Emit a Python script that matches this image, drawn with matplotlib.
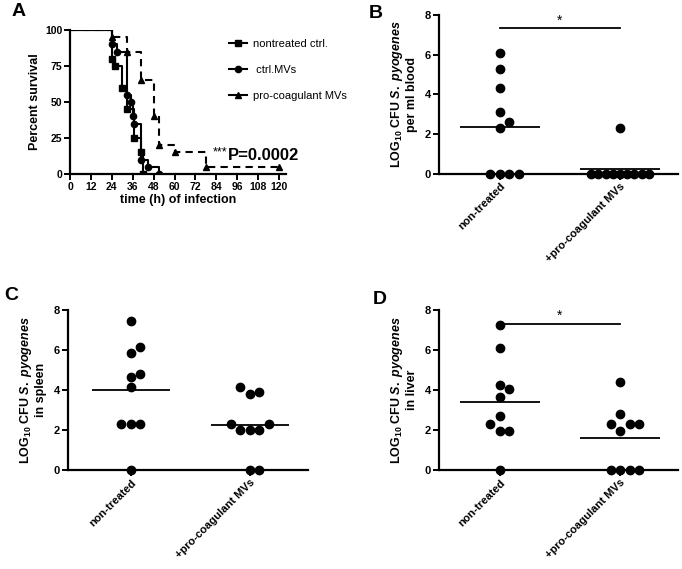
import numpy as np
import matplotlib
matplotlib.use('Agg')
import matplotlib.pyplot as plt
from matplotlib.lines import Line2D

plt.rcParams['font.family'] = 'Liberation Sans'
plt.rcParams['font.weight'] = 'bold'
plt.rcParams['axes.labelweight'] = 'bold'
plt.rcParams['mathtext.fontset'] = 'custom'
plt.rcParams['mathtext.rm'] = 'Liberation Sans:bold'
plt.rcParams['mathtext.it'] = 'Liberation Sans:italic:bold'
plt.rcParams['mathtext.bf'] = 'Liberation Sans:bold'

# --- survival data (panel A) ---
t_ctrl = [0, 24, 26, 30, 33, 37, 41, 42]
s_ctrl = [100, 80, 75, 60, 45, 25, 15, 0]
t_mv = [0, 24, 27, 33, 35, 36, 37, 41, 45, 51]
s_mv = [100, 90, 85, 55, 50, 40, 35, 10, 5, 0]
t_pro = [0, 24, 33, 41, 48, 51, 60, 78, 120]
s_pro = [100, 95, 85, 65, 40, 20, 15, 5, 5]
surv_labels = ['nontreated ctrl.', ' ctrl.MVs', 'pro-coagulant MVs']
x_ticks_a = list(range(0, 121, 12))
p_text = 'P=0.0002'

# --- CFU data (panels B-D) ---
groups = ['non-treated', '+pro-coagulant MVs']
blood_nt = [6.07, 5.28, 4.3, 3.1, 2.29, 2.59, 0, 0, 0, 0]
blood_pro = [2.29, 0, 0, 0, 0, 0, 0, 0, 0, 0]
spleen_nt = [7.47, 5.86, 6.17, 4.15, 4.68, 4.8, 2.3, 2.3, 2.3, 0]
spleen_pro = [3.79, 3.89, 4.17, 2.0, 2.0, 2.0, 2.3, 2.3, 0, 0]
liver_nt = [7.25, 6.11, 4.24, 4.07, 3.67, 2.72, 1.97, 1.97, 2.29, 0]
liver_pro = [4.41, 2.82, 1.97, 2.29, 2.29, 2.29, 0, 0, 0, 0]


fig = plt.figure(figsize=(6.82, 5.69), dpi=100)
W, H = 682., 569.


def axes_px(l, t, r, b):
    return fig.add_axes([l / W, 1 - b / H, (r - l) / W, (b - t) / H])


def style(ax):
    for s in ['top', 'right']:
        ax.spines[s].set_visible(False)
    for s in ['left', 'bottom']:
        ax.spines[s].set_linewidth(1.6)
    ax.tick_params(direction='out', width=1.4, length=4, labelsize=8, pad=1.5)


def swarm(ax, xc, vals):
    # side-by-side placement of overlapping dots, tighter when many ties
    ties = max(vals.count(v) for v in vals)
    d = 9.5 if ties <= 5 else 7.2
    T = ax.transData
    pts, xs = [], []
    for v in vals:
        x0, y0 = T.transform((xc, v))
        for k in [0, 1, -1, 2, -2, 3, -3, 4, -4, 5, -5]:
            xp = x0 + k * d
            if all((xp - a) ** 2 + (y0 - b) ** 2 >= (0.97 * d) ** 2 for a, b in pts):
                break
        pts.append((xp, y0))
        xs.append(T.inverted().transform((xp, y0))[0])
    return xs


# panel A
ax = axes_px(70, 30, 286, 174)
style(ax)
ax.step(t_ctrl, s_ctrl, where='post', color='k', lw=1.5)
ax.plot(t_ctrl[1:], s_ctrl[1:], 's', color='k', ms=4.5)
ax.step(t_mv, s_mv, where='post', color='k', lw=1.5)
ax.plot(t_mv[1:], s_mv[1:], 'o', color='k', ms=4.5)
ax.step(t_pro, s_pro, where='post', color='k', lw=1.5, linestyle=(0, (3.5, 2.5)))
ax.plot(t_pro[1:], s_pro[1:], '^', color='k', ms=5)
ax.set_xlim(0, 124)
ax.set_ylim(0, 100)
ax.set_xticks(x_ticks_a)
ax.set_yticks([0, 25, 50, 75, 100])
ax.tick_params(labelsize=7.5)
ax.set_xlabel('time (h) of infection', fontsize=9, labelpad=2)
ax.set_ylabel('Percent survival', fontsize=9, labelpad=3)
ax.text(82, 15, '***', fontsize=9, fontweight='normal', ha='left', va='center')
ax.text(90.5, 12.5, p_text, fontsize=12, fontweight='bold', ha='left', va='center')
handles = [Line2D([], [], color='k', lw=1.5, marker=m, ms=ms)
           for m, ms in zip(['s', 'o', '^'], [4.5, 4.5, 5])]
leg = ax.legend(handles, surv_labels, loc='upper left', bbox_to_anchor=(219 / W, 1 - 29 / H),
                bbox_transform=fig.transFigure, frameon=False,
                handlelength=1.6, labelspacing=1.45, handletextpad=0.6,
                prop={'weight': 'normal', 'size': 8})
fig.text(12 / W, 1 - 12 / H, 'A', fontsize=14, fontweight='bold', va='center', ha='left')


def cfu_panel(rect, xlim, nt, pro, site, letter, letter_xy, sig):
    ax = axes_px(*rect)
    style(ax)
    ax.set_xlim(*xlim)
    ax.set_ylim(0, 8)
    ax.set_yticks([0, 2, 4, 6, 8])
    ax.set_xticks([1, 2])
    ax.set_xticklabels(groups, rotation=45, ha='right', rotation_mode='anchor', fontsize=8)
    for xc, vals in zip([1, 2], [nt, pro]):
        ax.plot(swarm(ax, xc, vals), vals, 'o', color='k', ms=6, clip_on=False, zorder=3)
        ax.hlines(np.mean(vals), xc - 0.33, xc + 0.33, color='k', lw=1.3)
    if sig:
        ax.plot([1, 2], [7.33, 7.33], color='k', lw=1.3, clip_on=False)
        ax.text(1.5, 7.36, '*', ha='center', va='bottom', fontsize=10, fontweight='normal')
    ax.set_ylabel('LOG$_{10}$ CFU $\\it{S.\\ pyogenes}$\n' + site, fontsize=9,
                  linespacing=1.1, labelpad=5)
    fig.text(letter_xy[0] / W, 1 - letter_xy[1] / H, letter, fontsize=14,
             fontweight='bold', va='center', ha='left')
    return ax


cfu_panel((438.7, 15, 677.7, 173.7), (0.49, 2.48), blood_nt, blood_pro,
          'per ml blood', 'B', (369, 13), True)
cfu_panel((67.7, 310.3, 308.3, 470), (0.47, 2.49), spleen_nt, spleen_pro,
          'in spleen', 'C', (4, 295), False)
cfu_panel((438.7, 310.3, 677.7, 470), (0.49, 2.48), liver_nt, liver_pro,
          'in liver', 'D', (373, 300), True)

fig.savefig('out.png', dpi=100)
